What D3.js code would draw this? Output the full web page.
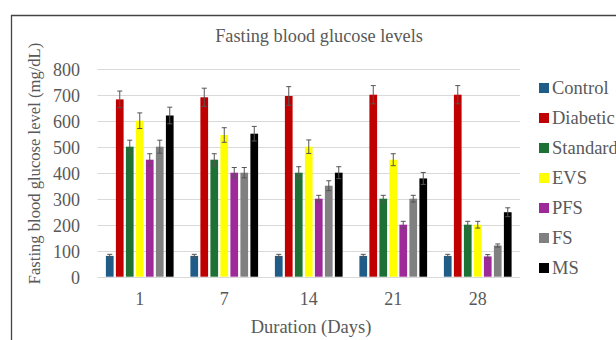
<!DOCTYPE html>
<html><head><meta charset="utf-8">
<script src="https://cdn.jsdelivr.net/npm/d3@7"></script>
<style>
html,body{margin:0;padding:0;background:#fff;}
svg{display:block;}
svg text{font-family:"Liberation Serif","DejaVu Serif",serif !important;fill:#595959;}
</style></head>
<body>
<svg id="chart" width="616" height="340"></svg>
<script>
const days = ["1","7","14","21","28"];
const seriesNames = ["Control","Diabetic","Standard","EVS","PFS","FS","MS"];
const seriesColors = ["#1F5C87","#C00000","#1E7134","#FFFF00","#9E2A9A","#808080","#000000"];
const control  = [80, 80, 80, 80, 80];
const diabetic = [682, 690, 695, 700, 700];
const standard = [500, 450, 400, 300, 200];
const evs      = [600, 545, 500, 450, 200];
const pfs      = [450, 400, 300, 200, 78];
const fs       = [500, 400, 350, 300, 120];
const ms       = [620, 550, 400, 378, 248];
const errControl  = [6, 6, 6, 6, 6];
const errDiabetic = [32, 35, 36, 35, 35];
const errStandard = [25, 23, 23, 13, 13];
const errEvs      = [30, 28, 26, 23, 13];
const errPfs      = [23, 20, 13, 13, 7];
const errFs       = [25, 20, 19, 13, 6];
const errMs       = [32, 28, 23, 23, 17];
const yTicks = [0,100,200,300,400,500,600,700,800];

const values = [control, diabetic, standard, evs, pfs, fs, ms];
const errors = [errControl, errDiabetic, errStandard, errEvs, errPfs, errFs, errMs];

const svg = d3.select("#chart");
const SERIF = '"Liberation Serif","DejaVu Serif",serif';

// border
svg.append("path").attr("d","M11.5,340 L11.5,15.5 L616,15.5")
  .attr("fill","none").attr("stroke","#444").attr("stroke-width",1.3);

const x0 = d3.scaleBand().domain(days).range([97.5, 520]).padding(0);
const innerW = 67.7;
const x1 = d3.scaleBand().domain(seriesNames)
  .range([(x0.bandwidth()-innerW)/2, (x0.bandwidth()+innerW)/2]).paddingInner(0.23);
const y = d3.scaleLinear().domain([0,800]).range([276.7, 68.7]);

// gridlines
svg.append("g").selectAll("line").data(yTicks).join("line")
  .attr("x1",97.5).attr("x2",520)
  .attr("y1",d=>Math.round(y(d))+0.5).attr("y2",d=>Math.round(y(d))+0.5)
  .attr("stroke","#d9d9d9").attr("stroke-width",1);

// y axis labels
const yAxis = d3.axisLeft(y).tickValues(yTicks).tickSize(0).tickPadding(0);
const gy = svg.append("g").attr("transform","translate(80,0)").call(yAxis)
  .attr("font-family",SERIF).attr("font-size",18);
gy.select(".domain").remove();
gy.selectAll("text").attr("fill","#595959").attr("dy","0.35em");

// x axis labels
const xAxis = d3.axisBottom(x0).tickSize(0).tickPadding(0);
const gx = svg.append("g").attr("transform","translate(0,292)").call(xAxis)
  .attr("font-family",SERIF).attr("font-size",18);
gx.select(".domain").remove();
gx.selectAll("text").attr("fill","#595959").attr("dy","0.71em");

// bars
const groups = svg.append("g").selectAll("g").data(days).join("g")
  .attr("transform",d=>`translate(${x0(d)},0)`);
groups.each(function(day, di){
  const g = d3.select(this);
  seriesNames.forEach((s, si) => {
    const v = values[si][di], e = errors[si][di];
    const bx = x1(s), bw = x1.bandwidth();
    g.append("rect").attr("x",bx).attr("y",y(v)).attr("width",bw).attr("height",y(0)-y(v))
      .attr("fill",seriesColors[si]);
    const cx = bx + bw/2;
    g.append("line").attr("x1",cx).attr("x2",cx).attr("y1",y(v+e)).attr("y2",y(Math.max(0,v-e)))
      .attr("stroke","#555").attr("stroke-width",1);
    g.append("line").attr("x1",cx-2.5).attr("x2",cx+2.5).attr("y1",y(v+e)).attr("y2",y(v+e))
      .attr("stroke","#555").attr("stroke-width",1);
    g.append("line").attr("x1",cx-2.5).attr("x2",cx+2.5).attr("y1",y(Math.max(0,v-e))).attr("y2",y(Math.max(0,v-e)))
      .attr("stroke","#555").attr("stroke-width",1);
  });
});

// title
svg.append("text").attr("x",319).attr("y",42).attr("text-anchor","middle")
  .attr("font-family",SERIF).attr("font-size",18.3).text("Fasting blood glucose levels");

// axis titles
svg.append("text").attr("transform","translate(40,163.5) rotate(-90)").attr("text-anchor","middle")
  .attr("font-family",SERIF).attr("font-size",16.6).text("Fasting blood glucose level (mg/dL)");
svg.append("text").attr("x",311).attr("y",333).attr("text-anchor","middle")
  .attr("font-family",SERIF).attr("font-size",18.5).text("Duration (Days)");

// legend
const leg = svg.append("g").selectAll("g").data(seriesNames).join("g")
  .attr("transform",(d,i)=>`translate(539,${88 + i*30})`);
leg.append("rect").attr("x",0).attr("y",-5).attr("width",10).attr("height",10)
  .attr("fill",(d,i)=>seriesColors[i]);
leg.append("text").attr("x",13).attr("y",0).attr("dy","0.35em")
  .attr("font-family",SERIF).attr("font-size",18.5)
  .text(d=>d);
</script>
</body></html>
